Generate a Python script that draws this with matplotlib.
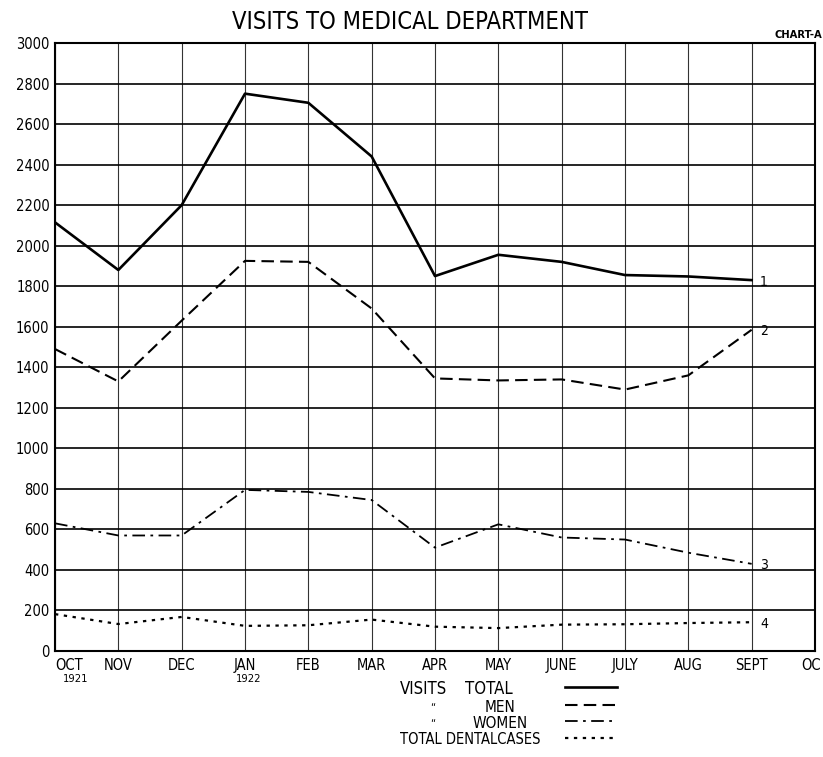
import matplotlib
matplotlib.use("Agg")
import matplotlib.pyplot as plt
from matplotlib.lines import Line2D

months = ["OCT", "NOV", "DEC", "JAN", "FEB", "MAR", "APR", "MAY",
          "JUNE", "JULY", "AUG", "SEPT", "OC"]
years = {0: "1921", 3: "1922"}
total = [2115, 1880, 2200, 2750, 2705, 2440, 1850, 1955, 1920, 1855, 1848, 1830]
men = [1490, 1330, 1630, 1925, 1920, 1690, 1345, 1335, 1340, 1290, 1360, 1585]
women = [630, 570, 570, 795, 785, 745, 510, 625, 560, 550, 485, 430]
dental = [182, 133, 168, 124, 127, 155, 120, 113, 130, 132, 138, 142]
yticks = list(range(0, 3001, 200))
end_labels = ["1", "2", "3", "4"]

plt.rcParams['font.family'] = ["DejaVu Sans"]
plt.rcParams['font.stretch'] = "condensed"

fig = plt.figure(figsize=(8.23, 7.57), dpi=100)
ax = fig.add_axes([55/823, 1-651/757, (815-55)/823, (651-43)/757])

x = list(range(len(total)))
series = [total, men, women, dental]
styles = ["-", (0, (6, 3)), (0, (7, 3, 1.5, 3)), (0, (1.5, 2.5))]
widths = [1.9, 1.5, 1.3, 1.6]
for s, ls, lw in zip(series, styles, widths):
    ax.plot(x, s, color="black", linestyle=ls, linewidth=lw, zorder=3)

ax.set_xlim(0, 12)
ax.set_ylim(0, 3000)
ax.set_xticks(range(13))
ax.set_xticklabels(months[:-1] + [""], fontsize=10.5)
xl = ax.get_xticklabels()
xl[0].set_horizontalalignment("left")
# last (truncated) month label at the right edge
ax.annotate(months[-1], xy=(12, 0), xycoords=("data", "axes fraction"),
            xytext=(4, -5), textcoords="offset points", ha="right", va="top",
            fontsize=10.5, annotation_clip=False)
for i, yr in years.items():
    ax.text(i + (0.33 if i == 0 else 0.05), -0.038, yr,
            transform=ax.get_xaxis_transform(),
            ha="center", va="top", fontsize=8)
ax.set_yticks(yticks)
ax.set_yticklabels([str(v) for v in yticks], fontsize=10.5)
ax.tick_params(length=0)
ax.tick_params(axis="x", pad=5)
ax.tick_params(axis="y", pad=4)
ax.grid(True, axis="y", color="black", linewidth=1.2)
ax.grid(True, axis="x", color="#333333", linewidth=0.8)
for sp in ax.spines.values():
    sp.set_linewidth(1.5)
    sp.set_color("black")

# end labels
for s, t in zip(series, end_labels):
    ax.annotate(t, xy=(11, s[-1]), xytext=(6, -1), textcoords="offset points",
                ha="left", va="center", fontsize=10)

fig.text(410/823, 1-22/757, "VISITS TO MEDICAL DEPARTMENT", ha="center",
         va="center", fontsize=17)
fig.text(822/823, 1-40/757, "CHART-A", ha="right", va="bottom", fontsize=8,
         fontweight="bold")

# legend
rows = [(689, "VISITS", "TOTAL"), (707, "\u201c", "MEN"),
        (723, "\u201c", "WOMEN"), (740, "", "TOTAL DENTALCASES")]
for (yy, a, b), ls, lw in zip(rows, styles, widths):
    yf = 1 - yy/757
    if a == "VISITS":
        fig.text(400/823, yf, a, ha="left", va="center", fontsize=12)
        fig.text(465/823, yf, b, ha="left", va="center", fontsize=12)
    elif a:
        fig.text(433/823, yf, a, ha="center", va="center", fontsize=8)
        fig.text(500/823, yf, b, ha="center", va="center", fontsize=11)
    else:
        fig.text(400/823, yf, b, ha="left", va="center", fontsize=10.5)
    fig.add_artist(Line2D([565/823, 617/823], [yf + 0.002, yf + 0.002],
                          color="black", linestyle=ls, linewidth=lw))

fig.savefig("out.png", dpi=100)
